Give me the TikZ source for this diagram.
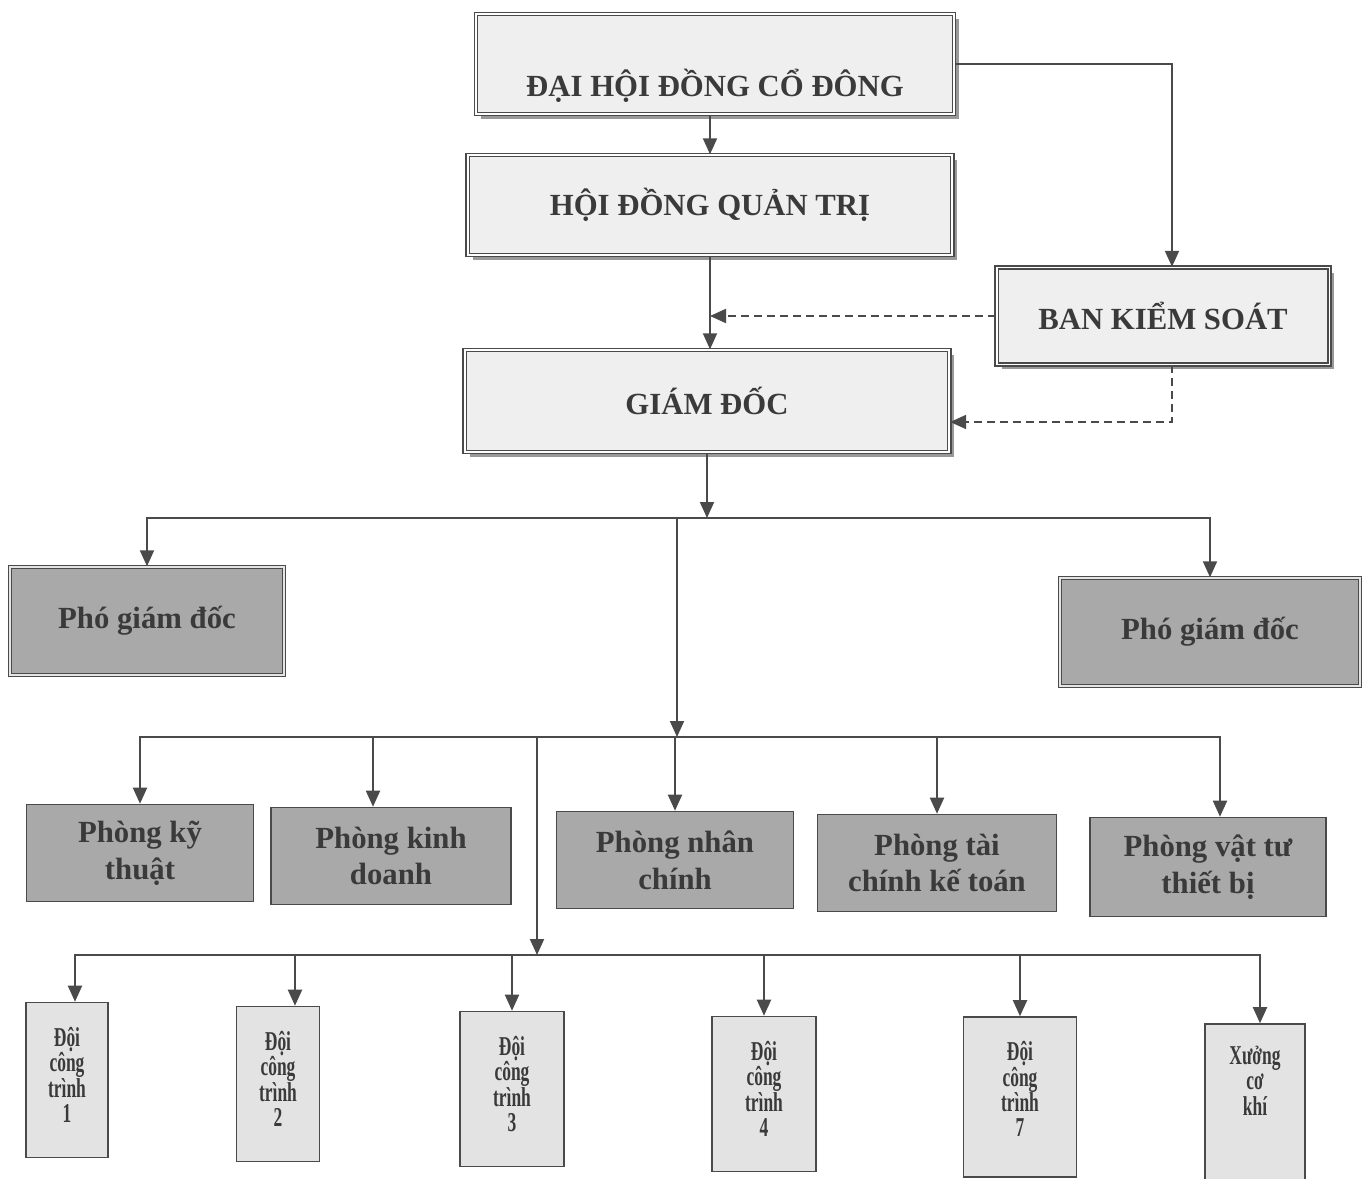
\documentclass[tikz,border=0pt]{standalone}
\usepackage{fontspec}
\setmainfont{Liberation Serif}
\newfontfamily\narrowserif[FakeStretch=0.64]{Liberation Serif}
\usepackage{tikz}
\usetikzlibrary{arrows.meta,positioning,shadows}
\usepackage{xcolor}

\definecolor{inkgray}{HTML}{3A3A3A}
\definecolor{linegray}{HTML}{4A4A4A}
\definecolor{lightfill}{HTML}{EFEFEF}
\definecolor{darkfill}{HTML}{A9A9A9}
\definecolor{teamfill}{HTML}{E3E3E3}

\tikzset{
  topbox/.style={draw=linegray, line width=0.8pt, double=white, double distance=1.1pt, fill=lightfill, text=inkgray,
    font=\fontsize{17.5}{21}\selectfont\bfseries, drop shadow={shadow xshift=0.1cm, shadow yshift=-0.1cm, fill=black!40, opacity=1}},
  vicebox/.style={draw=linegray, line width=0.8pt, double=white!80!gray, double distance=1.1pt, fill=darkfill, text=inkgray,
    font=\fontsize{17.5}{21}\selectfont\bfseries, minimum height=2.16cm},
  deptbox/.style={draw=linegray, line width=0.9pt, fill=darkfill, text=inkgray, align=center,
    font=\fontsize{17.5}{21}\selectfont\bfseries, minimum height=1.94cm},
  teambox/.style={draw=linegray, line width=0.9pt, fill=teamfill, text=inkgray, align=center,
    font=\narrowserif\fontsize{15.5}{14.5}\selectfont\bfseries, inner ysep=0pt, text height=2.4cm, text depth=0.7cm},
  orgline/.style={draw=linegray, line width=1.1pt, ->},
  auditline/.style={orgline, dash pattern=on 0.16cm off 0.1cm}
}

\begin{document}
\begin{tikzpicture}[x=0.02cm, y=-0.02cm, >={Triangle[width=0.28cm,length=0.32cm]}, every node/.style={align=center}]
\useasboundingbox (0,0) rectangle (1367,1179);
% top of the company
\node[topbox, minimum width=9.56cm, inner ysep=0pt, text height=1.66cm, text depth=0.34cm] (dhcd) at (715,64) {ĐẠI HỘI ĐỒNG CỔ ĐÔNG};
\node[topbox, minimum width=9.7cm, minimum height=2cm] (hdqt) at (710,205) {HỘI ĐỒNG QUẢN TRỊ};
\node[topbox, minimum width=6.66cm, minimum height=1.94cm] (bks) at (1163,316) {BAN KIỂM SOÁT};
\node[topbox, minimum width=9.7cm, minimum height=2.04cm] (gd) at (707,401) {GIÁM ĐỐC};
\node[vicebox, minimum width=5.48cm] (pgdl) at (147,621) {Phó giám đốc};
\node[vicebox, minimum width=6cm] (pgdr) at (1210,632) {Phó giám đốc};
% departments
\node[deptbox, minimum width=4.54cm] (pkt) at (140,853) {Phòng kỹ\\thuật};
\node[deptbox, minimum width=4.8cm] (pkd) at (391,856) {Phòng kinh\\doanh};
\node[deptbox, minimum width=4.74cm] (pnc) at (675,860) {Phòng nhân\\chính};
\node[deptbox, minimum width=4.78cm] (ptc) at (937,863) {Phòng tài\\chính kế toán};
\node[deptbox, minimum width=4.72cm, minimum height=1.98cm] (pvt) at (1208,867) {Phòng vật tư\\thiết bị};
% teams
\node[teambox, minimum width=1.64cm] (dct1) at (67,1080) {Đội\\công\\trình\\1};
\node[teambox, minimum width=1.66cm] (dct2) at (278,1084) {Đội\\công\\trình\\2};
\node[teambox, minimum width=2.08cm] (dct3) at (512,1089) {Đội\\công\\trình\\3};
\node[teambox, minimum width=2.08cm] (dct4) at (764,1094) {Đội\\công\\trình\\4};
\node[teambox, minimum width=2.26cm, text depth=0.8cm] (dct7) at (1020,1097) {Đội\\công\\trình\\7};
\node[teambox, minimum width=2cm, text height=1.82cm, text depth=1.62cm] (xck) at (1255,1110) {Xưởng\\cơ\\khí};
\coordinate (busA) at (707,518);
\coordinate (busB) at (677,737);
\coordinate (busC) at (537,955);
% links
\draw[orgline] (hdqt.north |- dhcd.south) -- (hdqt.north);
\draw[orgline] (hdqt.south) -- (hdqt.south |- gd.north);
\draw[orgline] (dhcd.east) -| ([xshift=0.18cm]bks.north);
\draw[auditline] (bks.west) -- (bks.west -| hdqt.south);
\draw[auditline] ([xshift=0.18cm]bks.south) |- ([yshift=-0.42cm]gd.east);
\draw[orgline] (gd.south) -- (busA);
\draw[orgline] (busA) -| (pgdl.north); \draw[orgline] (busA) -| (pgdr.north);
\draw[orgline] (busA -| busB) -- (busB);
\draw[orgline] (busB) -| (pkt.north); \draw[orgline] (busB) -| ([xshift=-0.36cm]pkd.north);
\draw[orgline] (busB) -| (pnc.north); \draw[orgline] (busB) -| (ptc.north);
\draw[orgline] (busB) -| ([xshift=0.24cm]pvt.north);
\draw[orgline] (busB -| busC) -- (busC);
\draw[orgline] (busC) -| ([xshift=0.16cm]dct1.north); \draw[orgline] (busC) -| ([xshift=0.34cm]dct2.north);
\draw[orgline] (busC) -| (dct3.north); \draw[orgline] (busC) -| (dct4.north);
\draw[orgline] (busC) -| (dct7.north); \draw[orgline] (busC) -| ([xshift=0.1cm]xck.north);
\end{tikzpicture}
\end{document}
